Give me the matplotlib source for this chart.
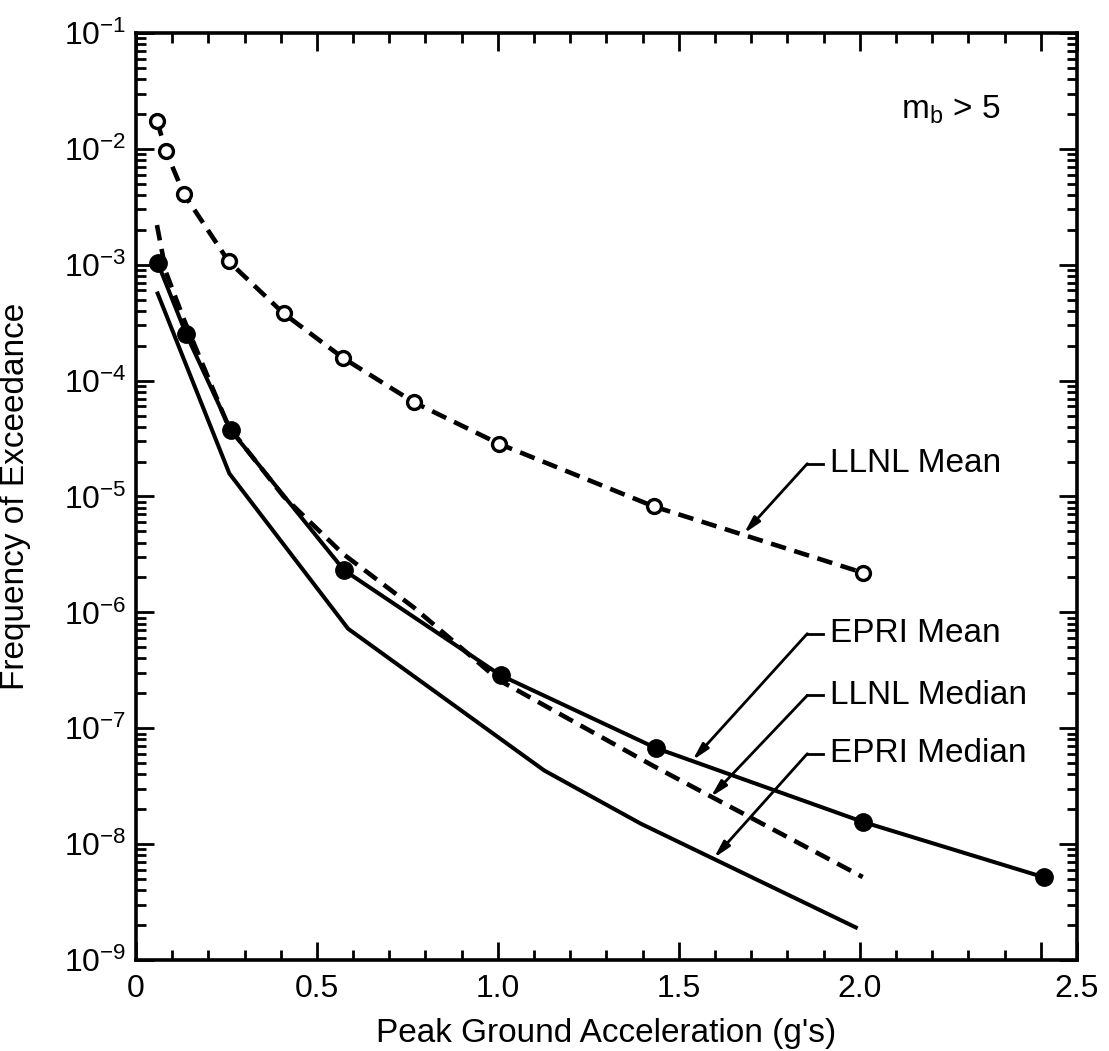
import matplotlib
matplotlib.use("Agg")
import matplotlib.pyplot as plt
from matplotlib.ticker import MultipleLocator, LogFormatterMathtext, NullFormatter, FixedLocator, FixedFormatter

plt.rcParams['font.family'] = ['Liberation Sans', 'DejaVu Sans']
plt.rcParams['mathtext.fontset'] = 'custom'
plt.rcParams['mathtext.rm'] = 'Liberation Sans'
plt.rcParams['mathtext.it'] = 'Liberation Sans'
plt.rcParams['mathtext.bf'] = 'Liberation Sans:bold'
plt.rcParams['axes.unicode_minus'] = False

# ---- data ----
llnl_x = [0.058, 0.083, 0.132, 0.256, 0.408, 0.572, 0.768, 1.003, 1.431, 2.008]
llnl_mean = [1.75e-2, 9.5e-3, 4.1e-3, 1.07e-3, 3.8e-4, 1.57e-4, 6.5e-5, 2.85e-5, 8.2e-6, 2.2e-6]
llnl_median = [2.2e-3, 8.6e-4, 3.4e-4, 4.0e-5, 1.0e-5, 3.2e-6, 1.1e-6, 2.6e-7, 4.7e-8, 5.2e-9]

epri_mean_x = [0.060, 0.138, 0.262, 0.575, 1.008, 1.436, 2.010, 2.508]
epri_mean = [1.04e-3, 2.55e-4, 3.73e-5, 2.31e-6, 2.86e-7, 6.76e-8, 1.55e-8, 5.18e-9]

epri_median_x = [0.060, 0.258, 0.586, 1.128, 1.395, 1.989]
epri_median = [5.65e-4, 1.58e-5, 7.23e-7, 4.32e-8, 1.50e-8, 1.91e-9]

x_tick_values = [0, 0.5, 1.0, 1.5, 2.0, 2.5, 2.6]
x_tick_labels = ["0", "0.5", "1.0", "1.5", "2.0", "", "2.5"]
y_decades = [1e-9, 1e-8, 1e-7, 1e-6, 1e-5, 1e-4, 1e-3, 1e-2, 1e-1]

# annotation labels: (text, arrow tip (x, y), leader corner (x, y))
labels = ["LLNL Mean", "EPRI Mean", "LLNL Median", "EPRI Median"]
tips = [(1.680, 4.8e-6), (1.538, 5.3e-8), (1.588, 2.55e-8), (1.597, 7.6e-9)]
corners = [(1.855, 1.92e-5), (1.855, 6.55e-7), (1.855, 1.92e-7), (1.855, 6.03e-8)]

fig = plt.figure(figsize=(11.09, 10.51), dpi=100)
ax = fig.add_axes([0.1226, 0.0866, 0.9711 - 0.1226, 0.9686 - 0.0866])

dash = (0, (3.4, 1.9))
ax.plot(llnl_x, llnl_median, color='black', lw=3.3, linestyle=dash, zorder=2)
ax.plot(epri_median_x, epri_median, color='black', lw=2.9, zorder=2)
ax.plot(epri_mean_x, epri_mean, color='black', lw=2.9, marker='o', markersize=12.5,
        markerfacecolor='black', markeredgecolor='black', zorder=3)
ax.plot(llnl_x, llnl_mean, color='black', lw=3.3, linestyle=dash, marker='o', markersize=10,
        markerfacecolor='white', markeredgecolor='black', markeredgewidth=2.4, zorder=3)

ax.set_yscale('log')
ax.set_xlim(0, 2.6)
ax.set_ylim(1e-9, 1e-1)

ax.xaxis.set_major_locator(FixedLocator(x_tick_values))
ax.xaxis.set_major_formatter(FixedFormatter(x_tick_labels))
ax.xaxis.set_minor_locator(MultipleLocator(0.1))
minor_y = [m * d for d in y_decades[:-1] for m in range(2, 10)]
ax.yaxis.set_major_locator(FixedLocator(y_decades))
ax.yaxis.set_major_formatter(LogFormatterMathtext())
ax.yaxis.set_minor_locator(FixedLocator(minor_y))
ax.yaxis.set_minor_formatter(NullFormatter())

ax.tick_params(which='both', direction='in', top=True, right=True, width=2.0, colors='black')
ax.tick_params(which='major', length=13, labelsize=23)
ax.tick_params(which='minor', length=7)
ax.tick_params(axis='x', which='major', pad=10)
ax.tick_params(axis='y', which='major', pad=7)
for s in ax.spines.values():
    s.set_linewidth(2.6)

ax.set_xlabel("Peak Ground Acceleration (g's)", fontsize=24, labelpad=10)
ax.set_ylabel("Frequency of Exceedance", fontsize=24)
ax.yaxis.set_label_coords(-0.112, 0.5)

ax.text(2.113, 2.16e-2, r"m$_\mathregular{b}$ > 5", fontsize=24, ha='left', va='center')

for lab, tip, corner in zip(labels, tips, corners):
    ax.annotate('', xy=tip, xytext=corner,
                arrowprops=dict(arrowstyle='-|>,head_length=1.0,head_width=0.25',
                                lw=2.0, color='black', shrinkA=0, shrinkB=0))
    ax.plot([corner[0], corner[0] + 0.042], [corner[1], corner[1]], color='black', lw=2.0)
    ax.text(corner[0] + 0.062, corner[1], lab, fontsize=24, ha='left', va='center')

fig.savefig("out.png", dpi=100)
